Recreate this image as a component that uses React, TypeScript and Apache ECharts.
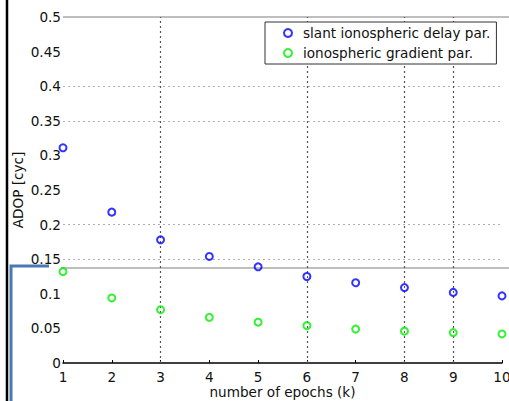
import React, { useEffect, useRef } from "react";
import * as echarts from "echarts";

const epochs = [1, 2, 3, 4, 5, 6, 7, 8, 9, 10];
const slantDelay = [0.311, 0.218, 0.178, 0.154, 0.139, 0.125, 0.116, 0.109, 0.102, 0.097];
const ionoGradient = [0.132, 0.094, 0.077, 0.066, 0.059, 0.054, 0.049, 0.046, 0.044, 0.042];
const hGridValues = [0.15, 0.2, 0.35, 0.4];
const vGridValues = [3, 6, 8, 9];
const seriesNames = ["slant ionospheric delay par.", "ionospheric gradient par."];

const FONT = "'DejaVu Sans', Verdana, sans-serif";
const FS = 13.6;

export default function App() {
  const ref = useRef<HTMLDivElement>(null);
  useEffect(() => {
    if (!ref.current) return;
    const chart = echarts.init(ref.current, undefined, { renderer: "svg" });
    const markLineData = [
      ...hGridValues.map((v) => ({
        yAxis: v,
        lineStyle: { color: "#b0b0b0", type: [2, 3], width: 1 },
      })),
      ...vGridValues.map((v) => ({
        xAxis: v,
        lineStyle: { color: "#555", type: [2, 3], width: 1.2 },
      })),
    ];
    chart.setOption({
      animation: false,
      backgroundColor: "#fff",
      textStyle: { fontFamily: FONT },
      grid: { left: 63, right: 7, top: 17, bottom: 38, containLabel: false, outerBoundsMode: "none" },
      legend: {
        left: 265,
        top: 22,
        z: 20,
        orient: "vertical",
        data: seriesNames,
        backgroundColor: "#fff",
        borderColor: "#333",
        borderWidth: 1,
        borderRadius: 0,
        padding: [3, 6, 3, 18],
        itemGap: 4,
        itemWidth: 8,
        itemHeight: 8,
        textStyle: {
          fontFamily: FONT,
          fontSize: FS,
          color: "#111",
          lineHeight: 16,
          padding: [0, 0, 0, 6],
        },
      },
      xAxis: {
        type: "value",
        min: 1,
        max: 10,
        interval: 1,
        name: "number of epochs (k)",
        nameLocation: "middle",
        nameGap: 22,
        nameMoveOverlap: false,
        nameTextStyle: { fontFamily: FONT, fontSize: FS, color: "#111", lineHeight: 14 },
        axisLine: { show: true, lineStyle: { color: "#000", width: 1.5 } },
        axisTick: { show: true, inside: true, length: 3, lineStyle: { color: "#000" } },
        axisLabel: { fontFamily: FONT, fontSize: FS, color: "#111", margin: 7, lineHeight: 14 },
        splitLine: { show: false },
      },
      yAxis: {
        type: "value",
        min: 0,
        max: 0.5,
        interval: 0.05,
        name: "ADOP [cyc]",
        nameLocation: "middle",
        nameGap: 38,
        nameMoveOverlap: false,
        nameTextStyle: { fontFamily: FONT, fontSize: FS, color: "#111" },
        axisLine: { show: false },
        axisTick: { show: false },
        axisLabel: {
          fontFamily: FONT,
          fontSize: FS,
          color: "#111",
          margin: 2,
          formatter: (v: number) => String(parseFloat(v.toFixed(2))),
        },
        splitLine: { show: false },
      },
      graphic: [
        { type: "line", shape: { x1: 63, y1: 17, x2: 509, y2: 17 }, style: { stroke: "#a8a8a8", lineWidth: 1.5 }, z: 1 },
        { type: "line", shape: { x1: 61, y1: 268, x2: 509, y2: 268 }, style: { stroke: "#a8a8a8", lineWidth: 1.5 }, z: 1 },
        { type: "line", shape: { x1: 7, y1: 0, x2: 7, y2: 401 }, style: { stroke: "#000", lineWidth: 2.5 }, z: 100 },
        { type: "polyline", shape: { points: [[11, 401], [11, 266], [49, 266]] }, style: { stroke: "#4a78b2", lineWidth: 3, fill: null }, z: 100 },
      ],
      series: [
        {
          name: seriesNames[0],
          type: "scatter",
          symbol: "circle",
          symbolSize: 7,
          itemStyle: { color: "rgba(255,255,255,0)", borderColor: "#0000ff", borderWidth: 2 },
          data: epochs.map((e, i) => [e, slantDelay[i]]),
          z: 5,
          markLine: {
            silent: true,
            symbol: ["none", "none"],
            label: { show: false },
            animation: false,
            z: 3,
            data: markLineData,
          },
        },
        {
          name: seriesNames[1],
          type: "scatter",
          symbol: "circle",
          symbolSize: 7,
          itemStyle: { color: "rgba(255,255,255,0)", borderColor: "#00ee00", borderWidth: 2 },
          data: epochs.map((e, i) => [e, ionoGradient[i]]),
          z: 5,
        },
      ],
    });
    return () => chart.dispose();
  }, []);
  return (
    <div
      ref={ref}
      style={{ position: "fixed", left: 0, top: 0, width: 509, height: 401 }}
    />
  );
}
